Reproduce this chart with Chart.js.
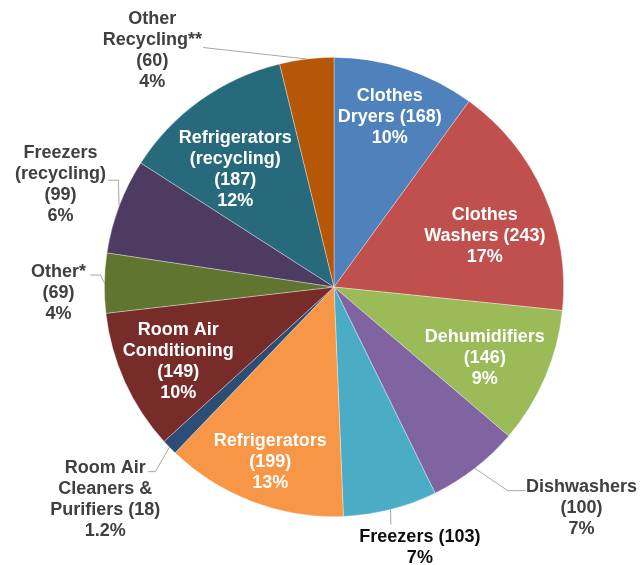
<!DOCTYPE html>
<html>
<head>
<meta charset="utf-8">
<script src="https://cdn.jsdelivr.net/npm/chart.js@4/dist/chart.umd.min.js"></script>
<style>
  html, body { margin: 0; padding: 0; background: #ffffff; }
  #wrap { width: 641px; height: 565px; }
</style>
</head>
<body>
<div id="wrap"><canvas id="c" width="641" height="565"></canvas></div>
<script>
// ---- Data ----
const categories = [
  "Clothes Dryers", "Clothes Washers", "Dehumidifiers", "Dishwashers", "Freezers",
  "Refrigerators", "Room Air Cleaners & Purifiers", "Room Air Conditioning", "Other*",
  "Freezers (recycling)", "Refrigerators (recycling)", "Other Recycling**"
];
const counts = [168, 243, 146, 100, 103, 199, 18, 149, 69, 99, 187, 60];
// slice shares (percent) as drawn in the picture
const shares = [10.0, 16.6, 9.6, 6.5, 6.6, 12.8, 1.1, 9.9, 4.2, 6.7, 12.1, 3.8];
const percentLabels = ["10%", "17%", "9%", "7%", "7%", "13%", "1.2%", "10%", "4%", "6%", "12%", "4%"];
// label text lines (without the percent line)
const labelLines = [
  ["Clothes", "Dryers (168)"],
  ["Clothes", "Washers (243)"],
  ["Dehumidifiers", "(146)"],
  ["Dishwashers", "(100)"],
  ["Freezers (103)"],
  ["Refrigerators", "(199)"],
  ["Room Air", "Cleaners &", "Purifiers (18)"],
  ["Room Air", "Conditioning", "(149)"],
  ["Other*", "(69)"],
  ["Freezers", "(recycling)", "(99)"],
  ["Refrigerators", "(recycling)", "(187)"],
  ["Other", "Recycling**", "(60)"]
];

// ---- Styles ----
const colors = ["#4F81BD", "#C0504D", "#9BBB59", "#8064A2", "#4BACC6", "#F79646",
                "#2C4D75", "#772C2A", "#5F7530", "#4D3B62", "#276A7C", "#B65708"];
const inside = [true, true, true, false, false, true, false, true, false, false, true, false];
// label anchor (center of first line) relative to pie center, in units of radius
const labelPos = [
  [0.243, -0.830], [0.657, -0.313], [0.657, 0.217], [1.078, 0.870], [0.374, 1.087],
  [-0.278, 0.670], [-0.996, 0.787], [-0.678, 0.187], [-1.200, -0.065], [-1.191, -0.583],
  [-0.430, -0.648], [-0.791, -1.165]
];
// leader polylines after the arc edge point, relative to center in radius units
const leaders = {
  3: [[0.757, 0.887], [0.835, 0.887]],
  4: [[0.248, 1.035]],
  6: [[-0.778, 0.804], [-0.809, 0.804]],
  8: [[-1.017, -0.052], [-1.061, -0.052]],
  9: [[-0.939, -0.465], [-0.983, -0.465]],
  11: [[-0.570, -1.043]]
};

const labelPlugin = {
  id: 'sliceLabels',
  afterDatasetsDraw(chart) {
    const ctx = chart.ctx;
    const meta = chart.getDatasetMeta(0);
    ctx.save();
    meta.data.forEach((arc, i) => {
      const cx = arc.x, cy = arc.y, r = arc.outerRadius;
      const mid = (arc.startAngle + arc.endAngle) / 2;
      if (leaders[i]) {
        ctx.beginPath();
        ctx.strokeStyle = '#A6A6A6';
        ctx.lineWidth = 1;
        ctx.moveTo(cx + Math.cos(mid) * r, cy + Math.sin(mid) * r);
        leaders[i].forEach(p => ctx.lineTo(cx + p[0] * r, cy + p[1] * r));
        ctx.stroke();
      }
      const lines = labelLines[i].concat([percentLabels[i]]);
      const x = cx + labelPos[i][0] * r;
      let y = cy + labelPos[i][1] * r;
      ctx.font = 'bold 18px "Liberation Sans", Arial, sans-serif';
      ctx.textAlign = 'center';
      ctx.textBaseline = 'middle';
      ctx.fillStyle = inside[i] ? '#FFFFFF' : (i === 4 ? '#0D0D0D' : '#404040');
      lines.forEach(t => { ctx.fillText(t, x, y); y += 21; });
    });
    ctx.restore();
  }
};

new Chart(document.getElementById('c'), {
  type: 'pie',
  data: {
    labels: categories,
    datasets: [{
      data: shares,
      backgroundColor: colors,
      borderColor: 'rgba(255,255,255,0.45)',
      borderWidth: 0.75
    }]
  },
  options: {
    responsive: false,
    devicePixelRatio: 1,
    animation: false,
    layout: { padding: { left: 104, right: 77, top: 57, bottom: 48 } },
    plugins: {
      legend: { display: false },
      tooltip: { enabled: false }
    }
  },
  plugins: [labelPlugin]
});
</script>
</body>
</html>
